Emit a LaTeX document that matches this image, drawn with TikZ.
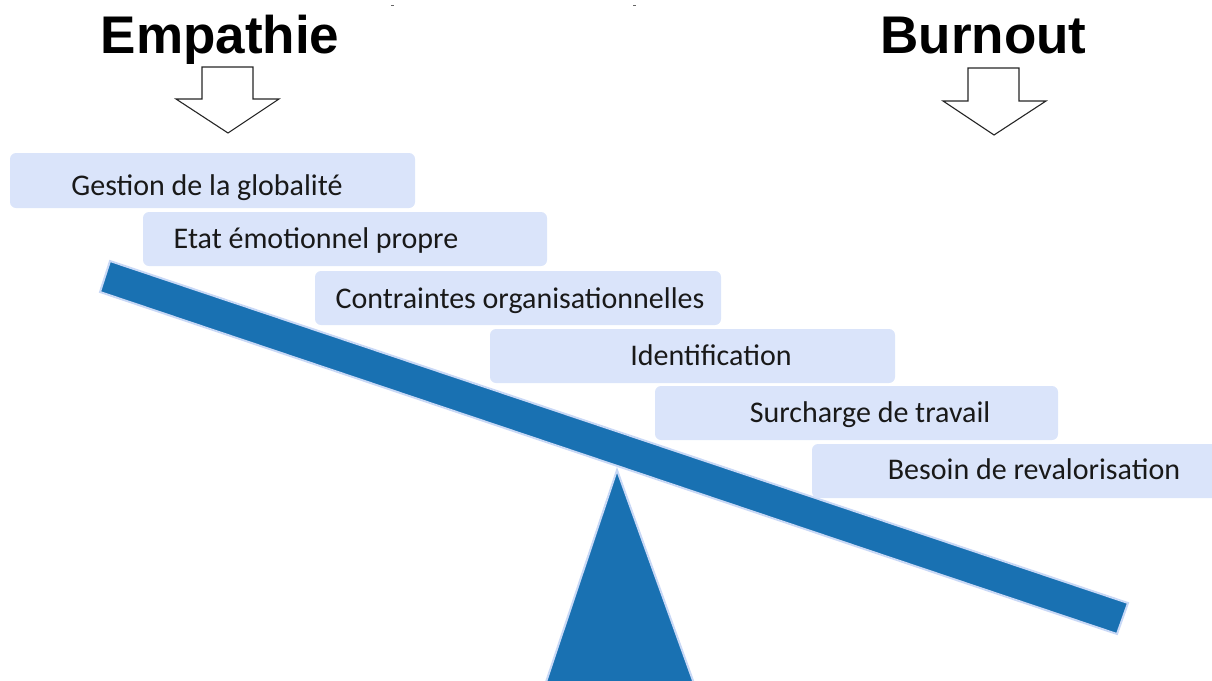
\documentclass[tikz,border=0pt]{standalone}
\usepackage{fontspec}
\setmainfont{Carlito}
\newfontfamily\titlefont{Liberation Sans}
\definecolor{beamblue}{RGB}{25,113,178}
\definecolor{beamedge}{RGB}{200,216,246}
\definecolor{boxfill}{RGB}{218,228,250}
\tikzset{
  titletext/.style={font=\titlefont\bfseries\fontsize{53}{60}\selectfont, anchor=base, inner sep=0pt},
  boxrect/.style={fill=boxfill, draw=none, rounded corners=6pt},
  boxtext/.style={font=\fontsize{30}{36}\selectfont, anchor=base, inner sep=0pt, text=black!90},
  solid blue/.style={fill=beamblue, draw=beamedge, line width=2pt, line join=miter},
  blockarrow/.style={fill=white, draw=black!85, line width=1.1pt, line join=miter},
}
\begin{document}
\begin{tikzpicture}[x=1pt,y=-1pt]
\useasboundingbox (0,0) rectangle (1212,680);
\begin{scope}
\clip (0,0) rectangle (1212,680);
% tiny marks at top
\fill[black!60] (390.5,4.5) rectangle (393.5,6);
\fill[black!60] (632.5,4.5) rectangle (635.5,6);
% titles
\node[titletext] (empathie) at (220,53) {Empathie};
\node[titletext] (burnout) at (983.5,53) {Burnout};
% block arrows
\draw[blockarrow] (202,67) -- (253,67) -- (253,99) -- (279,99) -- (228,133) -- (176,99) -- (202,99) -- cycle;
\draw[blockarrow] (968,68) -- (1019,68) -- (1019,101) -- (1046,101) -- (994,135) -- (943,101) -- (968,101) -- cycle;
% fulcrum
\draw[solid blue] (617,470) -- (700,700) -- (540,700) -- cycle;
% beam
\draw[solid blue] (110,261) -- (1128,603) -- (1117,634) -- (100,292) -- cycle;
% boxes
\fill[boxrect] (10,153) rectangle (415,208);
\fill[boxrect] (143,212) rectangle (547,266);
\fill[boxrect] (315,271) rectangle (721,325);
\fill[boxrect] (490,329) rectangle (895,383);
\fill[boxrect] (655,386) rectangle (1058,440);
\fill[boxrect] (812,444) rectangle (1222,498);
\node[boxtext] (t1) at (207,195) {Gestion de la globalité};
\node[boxtext] (t2) at (316,248) {Etat émotionnel propre};
\node[boxtext] (t3) at (520,308) {Contraintes organisationnelles};
\node[boxtext] (t4) at (711,365) {Identification};
\node[boxtext] (t5) at (870,422) {Surcharge de travail};
\node[boxtext] (t6) at (1034,479) {Besoin de revalorisation};
\end{scope}
\end{tikzpicture}
\end{document}
